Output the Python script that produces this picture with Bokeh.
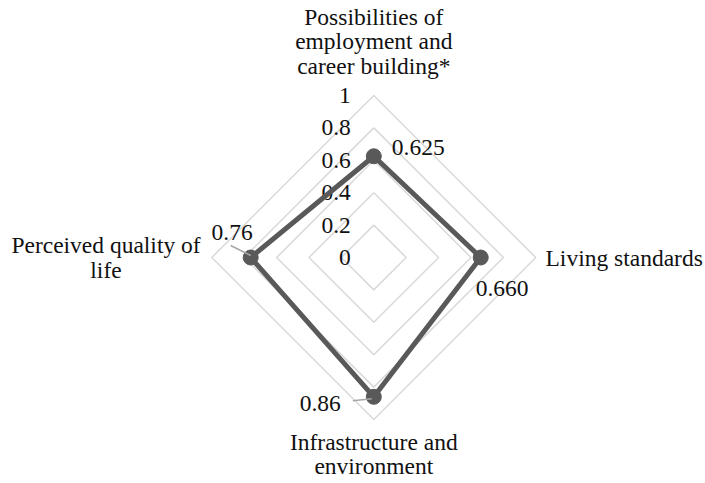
import numpy as np
from bokeh.plotting import figure
from bokeh.models import Range1d
from bokeh.core.properties import value
from bokeh.embed import file_html
from bokeh.resources import INLINE

# ---- data ----
categories = ["Possibilities of\nemployment and\ncareer building*",
              "Living standards",
              "Infrastructure and\nenvironment",
              "Perceived quality of\nlife"]
values = [0.625, 0.660, 0.86, 0.76]
value_labels = ["0.625", "0.660", "0.86", "0.76"]
grid_levels = [0.2, 0.4, 0.6, 0.8, 1.0]
tick_labels = ["0", "0.2", "0.4", "0.6", "0.8", "1"]
tick_values = [0, 0.2, 0.4, 0.6, 0.8, 1.0]

# ---- layout ----
W, H = 703, 481
S = 162.0            # px per unit
cx, cy = 373.3, 257.0
FONT = value("Liberation Serif")
FS = "23.5px"

p = figure(width=W, height=H, output_backend="svg", toolbar_location=None,
           x_range=Range1d(-cx / S, (W - cx) / S),
           y_range=Range1d(-(H - cy) / S, cy / S),
           min_border=0)
p.axis.visible = False
p.grid.visible = False
p.outline_line_color = None
p.background_fill_color = "white"
p.border_fill_color = "white"

# angles: top, right, bottom, left
angles = np.array([np.pi / 2, 0, -np.pi / 2, np.pi])
ux = np.round(np.cos(angles), 10)
uy = np.round(np.sin(angles), 10)

# grid diamonds
for lv in grid_levels:
    xs = list(ux * lv) + [ux[0] * lv]
    ys = list(uy * lv) + [uy[0] * lv]
    p.line(xs, ys, line_color="#d9d9d9", line_width=1.5)

# tick labels
p.text(x=[-23 / S] * len(tick_values), y=tick_values, text=tick_labels,
       text_font=FONT, text_font_size=FS, text_align="right",
       text_baseline="middle", text_color="#111111")

# data polygon
vx = ux * np.array(values)
vy = uy * np.array(values)
p.line(list(vx) + [vx[0]], list(vy) + [vy[0]], line_color="#595959",
       line_width=5, line_join="round")
p.scatter(vx, vy, size=15, fill_color="#595959", line_color="#595959")

# leader lines (bottom and left)
p.segment(x0=[vx[2] - 21 / S, vx[3] - 20 / S], y0=[vy[2] - 4 / S, vy[3] + 12 / S],
          x1=[vx[2] - 2 / S, vx[3]], y1=[vy[2] - 2 / S, vy[3] + 2 / S],
          line_color="#a6a6a6", line_width=1.5)

# value labels
offs = [(18, 9, "left"), (-5, -31, "left"), (-33, -7, "right"), (2, 25, "right")]
for i, (dx, dy, al) in enumerate(offs):
    p.text(x=[vx[i] + dx / S], y=[vy[i] + dy / S], text=[value_labels[i]],
           text_font=FONT, text_font_size=FS, text_align=al,
           text_baseline="middle", text_color="#111111")

# category labels
cat_pos = [(0, 216 / S, "center"), (171.7 / S, 0, "left"),
           (0, -196.5 / S, "center"), (-267.8 / S, 0, "center")]
for i, (x, y, al) in enumerate(cat_pos):
    p.text(x=[x], y=[y], text=[categories[i]], text_font=FONT,
           text_font_size=FS, text_align=al, text_baseline="middle",
           text_line_height=0.93, text_color="#111111")

open("out.html", "w").write(file_html(p, INLINE))
